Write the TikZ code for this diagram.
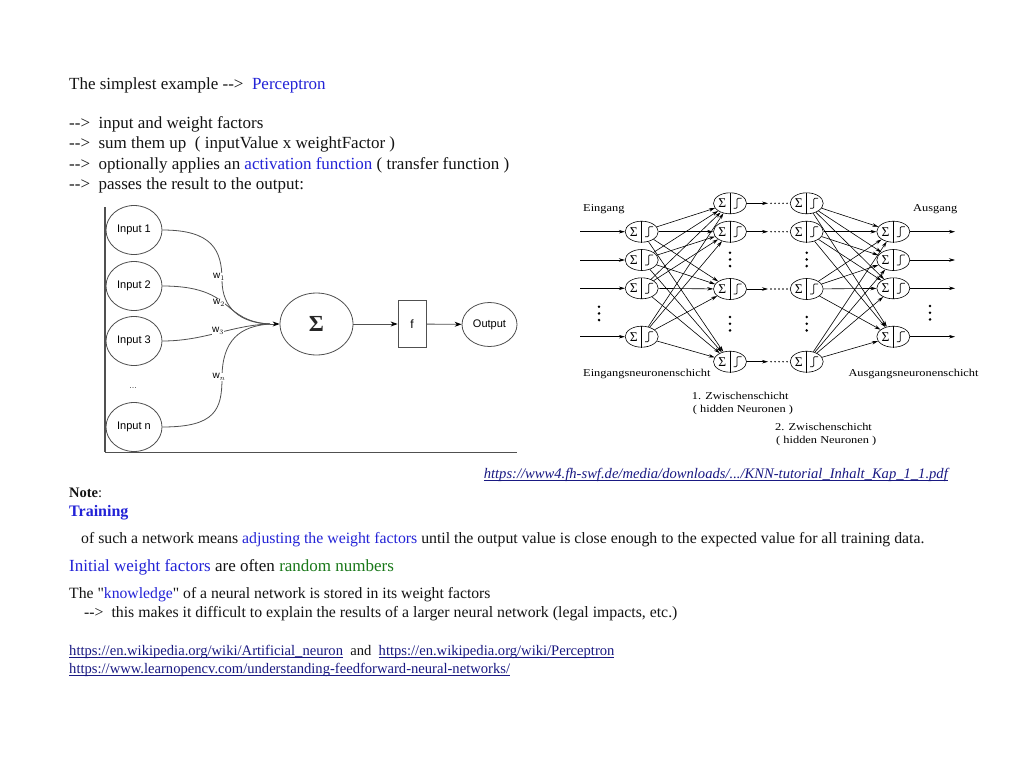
\documentclass[tikz,border=0pt]{standalone}
\usepackage{fontspec}
\usepackage{graphicx}
\setmainfont{Liberation Serif}
\newfontfamily\rawserif{Liberation Serif}
\newfontfamily\diagsans{Liberation Sans}
\usetikzlibrary{arrows.meta,calc,shapes.geometric}
\definecolor{lnkblue}{RGB}{35,35,215}
\definecolor{urlblue}{RGB}{25,25,130}
\definecolor{grn}{RGB}{25,120,25}
\definecolor{txtc}{RGB}{20,20,20}
\definecolor{dgray}{RGB}{80,80,80}
\newcommand\mkneuron[3]{%
  \node[neu] (#1) at (#2,#3) {};
  \draw[line width=0.6pt] (#1.north) -- (#1.south);
  \node[inner sep=0,font=\rawserif\fontsize{13.5}{13.5}\selectfont] at ($(#1.center)+(-7.8,0.2)$) {Σ};
  \draw[line width=0.7pt,rounded corners=1pt] ($(#1.center)+(3.5,5)$) -- ($(#1.center)+(7,5)$) -- ($(#1.center)+(7,-5)$) -- ($(#1.center)+(11.5,-5)$);
}
\newcommand\vdotsat[2]{%
  \fill (#1,#2) circle (1.4pt) (#1,#2+6.7) circle (1.4pt) (#1,#2+13.4) circle (1.4pt);
}
\newcommand\wide[1]{\scalebox{1.18}[1]{#1}}
\newcommand\ulk[1]{\setbox0=\hbox{#1}\rlap{\rule[-1.8pt]{\wd0}{0.7pt}}\box0}
\begin{document}
\begin{tikzpicture}[x=1pt,y=-1pt,
  txt/.style={anchor=base west, inner sep=0, text=txtc, font=\fontsize{17}{19}\selectfont},
  inp/.style={draw=dgray, ellipse, minimum width=56pt, minimum height=49pt, inner sep=0, line width=0.8pt, font=\diagsans\fontsize{11}{12}\selectfont},
  wlab/.style={fill=white, inner sep=0.6pt, font=\diagsans\fontsize{10}{10}\selectfont},
  curve/.style={draw=dgray, line width=0.8pt},
  larr/.style={draw=dgray, line width=0.8pt, -{Stealth[length=7pt,width=5pt,color=black]}},
  neu/.style={draw, ellipse, minimum width=33pt, minimum height=21pt, inner sep=0, line width=0.6pt},
  narr/.style={line width=0.6pt, -{Stealth[length=6pt,width=3.5pt]}},
  dotline/.style={line width=1.6pt, dash pattern=on 0pt off 4pt, line cap=round},
  dlab/.style={anchor=base west, inner sep=0, font=\fontsize{10.5}{12}\selectfont},
  url/.style={anchor=base west, inner sep=0, text=urlblue, font=\fontsize{14.6}{16}\selectfont}
]
\fill[white] (0,0) rectangle (1024,768);
\useasboundingbox (0,0) rectangle (1024,768);

% ---------- top text ----------
\node[txt] (t0) at (69,89) {The simplest example -{}->\ \ \textcolor{lnkblue}{Perceptron}};
\node[txt] (t1) at (69,128) {-{}->\ \ input and weight factors};
\node[txt] (t2) at (69,148.5) {-{}->\ \ sum them up\ \ ( inputValue x weightFactor )};
\node[txt] (t3) at (69,169) {-{}->\ \ optionally applies an \textcolor{lnkblue}{activation function} ( transfer function )};
\node[txt] (t4) at (69,189.5) {-{}->\ \ passes the result to the output:};

% ---------- perceptron diagram ----------
\draw[dgray, line width=1.2pt] (105,207) -- (105,452);
\draw[dgray, line width=0.8pt] (105,452) -- (517,452);
\node[inp] (in1) at (134,230) {Input 1};
\node[inp] (in2) at (134,286) {Input 2};
\node[inp] (in3) at (134,341) {Input 3};
\node[inp] (inn) at (134,427) {Input n};
\node[font=\diagsans\fontsize{9}{9}\selectfont, text=dgray] (dd) at (133,388) {...};
\node[draw=dgray, ellipse, minimum width=73pt, minimum height=62pt, inner sep=0, line width=0.8pt, font=\rawserif\bfseries\fontsize{23}{23}\selectfont, text=black!85] (sig) at (316.5,324) {Σ};
\node[draw=dgray, rectangle, minimum width=28pt, minimum height=47pt, inner sep=0, line width=0.8pt, font=\diagsans\fontsize{12}{13}\selectfont] (fbox) at (412,324) {f};
\node[inp, minimum width=55pt, minimum height=44pt] (outp) at (489.5,324.5) {Output};
\coordinate (conv) at (270,324);
\draw[curve] (in1.east) .. controls (212,230) and (222,250) .. (222,280) .. controls (222,308) and (240,323) .. (conv);
\draw[curve] (in2.east) .. controls (205,286) and (218,298) .. (230,308) .. controls (242,318) and (252,323) .. (conv);
\draw[curve] (in3.east) .. controls (205,341) and (232,325) .. (conv);
\draw[curve] (inn.east) .. controls (215,427) and (222,410) .. (222,378) .. controls (222,340) and (240,326) .. (conv);
\draw[larr] (conv) -- (sig);
\draw[larr] (sig) -- (fbox);
\draw[larr] (fbox) -- (outp);
\node[wlab] (w1) at (219,277) {w$_{1}$};
\node[wlab] (w2) at (219,303) {w$_{2}$};
\node[wlab] (w3) at (218,331) {w$_{3}$};
\node[wlab] (wn) at (219,377) {w$_{n}$};

% ---------- multilayer network ----------
\mkneuron{i1}{641.7}{231.7}
\mkneuron{i2}{641.7}{260}
\mkneuron{i3}{641.7}{288.3}
\mkneuron{i4}{641.7}{336.7}
\mkneuron{a1}{730}{203.3}
\mkneuron{a2}{730}{231.7}
\mkneuron{a3}{730}{289}
\mkneuron{a4}{730}{361.7}
\mkneuron{b1}{806.7}{203.3}
\mkneuron{b2}{806.7}{231.7}
\mkneuron{b3}{806.7}{289}
\mkneuron{b4}{806.7}{361.7}
\mkneuron{o1}{893.3}{231.7}
\mkneuron{o2}{893.3}{260}
\mkneuron{o3}{893.3}{288.3}
\mkneuron{o4}{893.3}{336.7}
\foreach \i in {1,...,4}{\foreach \j in {1,...,4}{\draw[narr] (i\i) -- (a\j);}}
\foreach \i in {1,...,4}{\foreach \j in {1,...,4}{\draw[narr] (b\i) -- (o\j);}}
\foreach \k/\y in {1/231.7,2/260,3/288.3,4/336.7}{
  \coordinate (s\k) at (580,\y);
  \coordinate (e\k) at (955,\y);
  \draw[narr] (s\k) -- (i\k);
  \draw[narr] (o\k) -- (e\k);
}
\foreach \k/\y in {1/203.3,2/231.7,3/289,4/361.7}{
  \coordinate (m\k) at (768,\y);
  \draw[narr] (a\k) -- (m\k);
  \draw[dotline] ($(m\k)+(3,0)$) -- ($(b\k.west)+(-1,0)$);
}
\vdotsat{599}{306.7}
\vdotsat{730}{252.7}
\vdotsat{730}{317}
\vdotsat{806.7}{252.7}
\vdotsat{806.7}{317}
\vdotsat{930}{306}
\node[dlab] (l1) at (583,211.7) {\wide{Eingang}};
\node[dlab] (l2) at (913,211.7) {\wide{Ausgang}};
\node[dlab] (l3) at (583,376.7) {\wide{Eingangsneuronenschicht}};
\node[dlab] (l4) at (848.3,376.7) {\wide{Ausgangsneuronenschicht}};
\node[dlab] (l5) at (691.7,399.3) {\wide{1. Zwischenschicht}};
\node[dlab] (l6) at (692.7,412) {\wide{( hidden Neuronen )}};
\node[dlab] (l7) at (775,430.7) {\wide{2. Zwischenschicht}};
\node[dlab] (l8) at (776,443) {\wide{( hidden Neuronen )}};

% ---------- lower text ----------
\node[url, anchor=base east, font=\itshape\fontsize{14.6}{16}\selectfont] (src) at (948,478.5) {\ulk{https://www4.fh-swf.de/media/downloads/.../KNN-tutorial\_Inhalt\_Kap\_1\_1.pdf}};
\node[txt, font=\fontsize{14.5}{16}\selectfont] (note) at (69,497) {\textbf{Note}:};
\node[txt, font=\bfseries\fontsize{16}{18}\selectfont, text=lnkblue] (train) at (69,516) {Training};
\node[txt, font=\fontsize{15.8}{17}\selectfont] (such) at (81,543) {of such a network means \textcolor{lnkblue}{adjusting the weight factors} until the output value is close enough to the expected value for all training data.};
\node[txt, font=\fontsize{17}{19}\selectfont] (init) at (69,571) {\textcolor{lnkblue}{Initial weight factors} are often \textcolor{grn}{random numbers}};
\node[txt, font=\fontsize{15.7}{17}\selectfont] (know) at (69,598) {The {\rawserif"}\textcolor{lnkblue}{knowledge}{\rawserif"} of a neural network is stored in its weight factors};
\node[txt, font=\fontsize{15.8}{17}\selectfont] (expl) at (84,617) {-{}->\ \ this makes it difficult to explain the results of a larger neural network (legal impacts, etc.)};
\node[url] (wk) at (69,655.5) {\ulk{https://en.wikipedia.org/wiki/Artificial\_neuron}\ \ \textcolor{txtc}{and}\ \ \ulk{https://en.wikipedia.org/wiki/Perceptron}};
\node[url] (lo) at (69,673.5) {\ulk{https://www.learnopencv.com/understanding-feedforward-neural-networks/}};
\end{tikzpicture}
\end{document}
